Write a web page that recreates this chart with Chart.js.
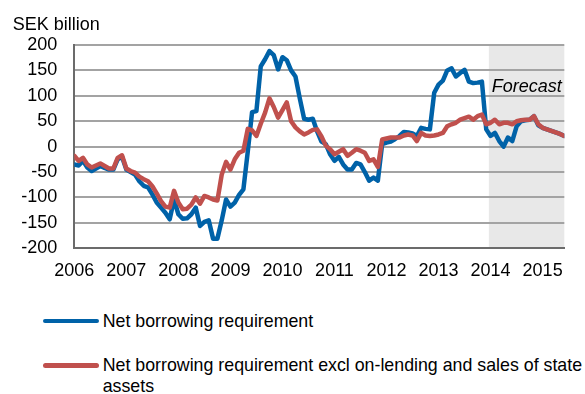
<!DOCTYPE html>
<html>
<head>
<meta charset="utf-8">
<script src="https://cdn.jsdelivr.net/npm/chart.js@4/dist/chart.umd.min.js"></script>
<style>
  html, body { margin: 0; padding: 0; background: #ffffff; overflow: hidden; }
  body { width: 585px; height: 394px; position: relative; font-family: "Liberation Sans", Arial, Helvetica, sans-serif; color: #000; }
  #chart { position: absolute; left: 0; top: 0; }
  #unit { position: absolute; left: 12.7px; top: 15.4px; font-size: 18px; line-height: 18px; white-space: nowrap; }
  .leg-line { position: absolute; height: 4.5px; border-radius: 3px; }
  .leg-text { position: absolute; font-size: 17.8px; line-height: 21px; }
</style>
</head>
<body>
<canvas id="chart" width="585" height="300"></canvas>
<div id="unit">SEK billion</div>
<div id="legend"></div>
<script>
// ---- Data (monthly, starting January 2006) ----
const startYear = 2006;
const yearLabels = ['2006', '2007', '2008', '2009', '2010', '2011', '2012', '2013', '2014', '2015'];
const yAxisTicks = [-200, -150, -100, -50, 0, 50, 100, 150, 200];
const forecastStart = 95.6; // months after Jan 2006 where the forecast shading begins
const forecastLabel = 'Forecast';
const unitLabel = 'SEK billion';

const seriesNames = [
  'Net borrowing requirement',
  'Net borrowing requirement excl on-lending and sales of state assets'
];

const netBorrowing = [
  -35, -37, -28, -41, -48, -43, -38, -42, -45, -45, -25, -20,
  -45, -50, -55, -68, -77, -80, -94, -110, -120, -130, -143, -104,
  -133, -142, -141, -133, -120, -156, -148, -145, -181, -181, -145, -104,
  -118, -110, -95, -84, -10, 68, 70, 158, 172, 188, 180, 152,
  176, 170, 150, 138, 95, 55, 53, 55, 30, 10, 5, -15,
  -28, -20, -35, -45, -45, -32, -35, -50, -67, -61, -67, 5,
  8, 10, 15, 21, 29, 28, 26, 21, 37, 35, 34, 106,
  122, 130, 150, 154, 138, 145, 151, 128, 125, 126, 128, 34,
  21, 27, 11, 0, 18, 11, 40, 50, 52, 53, 60, 42,
  37, 34, 31, 28, 25, 21
];

const netBorrowingExcl = [
  -18, -28, -22, -35, -41, -37, -33, -38, -43, -43, -22, -17,
  -43, -48, -51, -59, -64, -68, -78, -92, -107, -118, -120, -87,
  -110, -123, -122, -114, -100, -112, -97, -100, -104, -106, -55, -30,
  -45, -25, -12, -8, 35, 32, 21, 45, 67, 95, 78, 57,
  72, 87, 50, 38, 30, 24, 28, 33, 34, 20, 2, -5,
  -15, -10, -5, -18, -12, -5, -8, -12, -28, -25, -40, 14,
  16, 18, 18, 18, 22, 24, 22, 11, 27, 22, 21, 22,
  24, 27, 40, 44, 47, 53, 56, 59, 53, 60, 63, 44,
  47, 53, 44, 47, 47, 44, 50, 52, 53, 53, 60, 44,
  37, 34, 31, 28, 25, 21
];

// ---- Styles ----
const BLUE = '#0062a8';
const RED = '#c0504d';
const FONT = '"Liberation Sans", Arial, Helvetica, sans-serif';

const toPoints = arr => arr.map((v, i) => ({ x: i, y: v }));

const forecastPlugin = {
  id: 'forecastShade',
  beforeDraw(chart) {
    const { ctx, chartArea, scales } = chart;
    const x0 = scales.x.getPixelForValue(forecastStart);
    ctx.save();
    ctx.fillStyle = '#e8e8e8';
    ctx.fillRect(x0, chartArea.top, chartArea.right - x0, chartArea.bottom - chartArea.top);
    ctx.restore();
  },
  afterDatasetsDraw(chart) {
    const { ctx, scales } = chart;
    const x0 = scales.x.getPixelForValue(forecastStart);
    ctx.save();
    ctx.font = 'italic 18px ' + FONT;
    ctx.fillStyle = '#000';
    ctx.textBaseline = 'alphabetic';
    ctx.textAlign = 'left';
    ctx.fillText(forecastLabel, x0 + 3, scales.y.getPixelForValue(108));
    ctx.restore();
  }
};

const chart = new Chart(document.getElementById('chart'), {
  type: 'line',
  data: {
    datasets: [
      {
        label: seriesNames[0],
        data: toPoints(netBorrowing),
        borderColor: BLUE,
        backgroundColor: BLUE,
        borderWidth: 4.5,
        pointRadius: 0,
        tension: 0,
        borderJoinStyle: 'round',
        borderCapStyle: 'round',
        order: 1
      },
      {
        label: seriesNames[1],
        data: toPoints(netBorrowingExcl),
        borderColor: RED,
        backgroundColor: RED,
        borderWidth: 4.5,
        pointRadius: 0,
        tension: 0,
        borderJoinStyle: 'round',
        borderCapStyle: 'round',
        order: 0
      }
    ]
  },
  options: {
    responsive: false,
    animation: false,
    events: [],
    layout: { padding: { left: 0, top: 45, right: 20.7, bottom: 0 } },
    plugins: { legend: { display: false }, tooltip: { enabled: false }, title: { display: false } },
    scales: {
      x: {
        type: 'linear',
        min: 0,
        max: netBorrowing.length - 1,
        afterBuildTicks(scale) {
          scale.ticks = yearLabels.map((_, k) => ({ value: k * 12 }));
        },
        afterFit(scale) { scale.height = 51.7; },
        ticks: {
          autoSkip: false,
          maxRotation: 0,
          padding: 12,
          color: '#000',
          font: { family: FONT, size: 18 },
          callback: v => yearLabels[Math.round(v / 12)]
        },
        grid: { display: false, drawTicks: false },
        border: { display: true, color: '#6b6b6b', width: 2 }
      },
      y: {
        min: -200,
        max: 200,
        afterBuildTicks(scale) {
          scale.ticks = yAxisTicks.map(v => ({ value: v }));
        },
        afterFit(scale) { scale.width = 74.3; },
        ticks: {
          padding: 17,
          color: '#000',
          font: { family: FONT, size: 18 }
        },
        grid: { color: '#a3a3a3', lineWidth: 2, drawTicks: false },
        border: { display: true, color: '#6b6b6b', width: 2 }
      }
    }
  },
  plugins: [forecastPlugin]
});

// ---- HTML legend built from the chart datasets ----
const legend = document.getElementById('legend');
const legendRows = [321, 365.7];
chart.data.datasets.forEach((ds, i) => {
  const line = document.createElement('div');
  line.className = 'leg-line';
  line.style.left = '43.3px';
  line.style.width = '56px';
  line.style.top = (legendRows[i] - 2.25) + 'px';
  line.style.background = ds.borderColor;
  legend.appendChild(line);
  const txt = document.createElement('div');
  txt.className = 'leg-text';
  txt.style.left = '102.7px';
  txt.style.width = '486px';
  txt.style.top = (legendRows[i] - 10.4) + 'px';
  txt.textContent = ds.label;
  legend.appendChild(txt);
});
</script>
</body>
</html>
